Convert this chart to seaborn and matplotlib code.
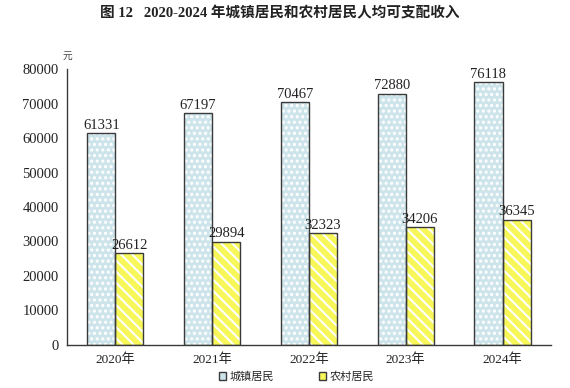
import pandas as pd
import numpy as np
import seaborn as sns
import matplotlib.pyplot as plt
from matplotlib.patches import Rectangle, Patch

sns.set_style("white")
plt.rcParams['font.family'] = ['Liberation Serif', 'Noto Sans CJK SC']
plt.rcParams['hatch.linewidth'] = 1.5

years = ['2020年', '2021年', '2022年', '2023年', '2024年']
urban = [61331, 67197, 70467, 72880, 76118]
rural = [26612, 29894, 32323, 34206, 36345]
series = ['城镇居民', '农村居民']

df = pd.DataFrame({
    'year': years * 2,
    'value': urban + rural,
    'type': [series[0]] * len(years) + [series[1]] * len(years),
})

blue = '#cde4eb'
yellow = '#f7f75a'
edge = '#3a3a3a'

fig = plt.figure(figsize=(5.7, 3.88), dpi=100)
ax = fig.add_axes([0.1175, 0.111, 0.849, 0.711])

sns.barplot(data=df, x='year', y='value', hue='type', palette=[blue, yellow],
            width=0.58, gap=0, legend=False, ax=ax, saturation=1)

# dots on the urban bars, diagonal stripes on the rural bars
hatches = ['...', '\\\\\\']
for cont, h in zip(ax.containers, hatches):
    for p in cont:
        p.set_hatch(h)
        p.set_edgecolor('white')
        p.set_linewidth(0)
        ax.add_patch(Rectangle(p.get_xy(), p.get_width(), p.get_height(),
                               fill=False, edgecolor=edge, linewidth=1.0, zorder=3))
    ax.bar_label(cont, padding=1, fontsize=10.5, color='#222222')

ax.set_xlim(-0.5, len(years) - 0.5)
ax.set_ylim(0, 80000)
ax.set_yticks(np.arange(0, 80001, 10000))
ax.tick_params(axis='y', direction='in', length=4, width=1, color=edge,
               labelsize=10.5, pad=6, labelcolor='#222222')
ax.set_xticks(np.arange(0.5, len(years), 1), minor=True)
ax.tick_params(axis='x', which='minor', direction='in', length=5, width=1, color=edge)
ax.tick_params(axis='x', which='major', length=0, labelsize=9.5, pad=6, labelcolor='#222222')
ax.set_xlabel('')
ax.set_ylabel('')

for s in ['top', 'right']:
    ax.spines[s].set_visible(False)
for s in ['left', 'bottom']:
    ax.spines[s].set_color(edge)
    ax.spines[s].set_linewidth(1.0)

ax.text(0.0, 1.03, '元', transform=ax.transAxes, fontsize=7, ha='center', va='bottom', color='#444444')

fig.suptitle('图 12   2020-2024 年城镇居民和农村居民人均可支配收入',
             x=0.49, y=0.985, fontsize=10.5, fontweight='bold', color='#222222')

handles = [Patch(facecolor=blue, edgecolor=edge, linewidth=1.0),
           Patch(facecolor=yellow, edgecolor=edge, linewidth=1.0)]
fig.legend(handles, series, loc='lower center', bbox_to_anchor=(0.52, -0.01), ncol=2,
           frameon=False, fontsize=8, handlelength=0.7, handleheight=0.7,
           handletextpad=0.3, columnspacing=4.0)

fig.savefig('out.png', dpi=100)
